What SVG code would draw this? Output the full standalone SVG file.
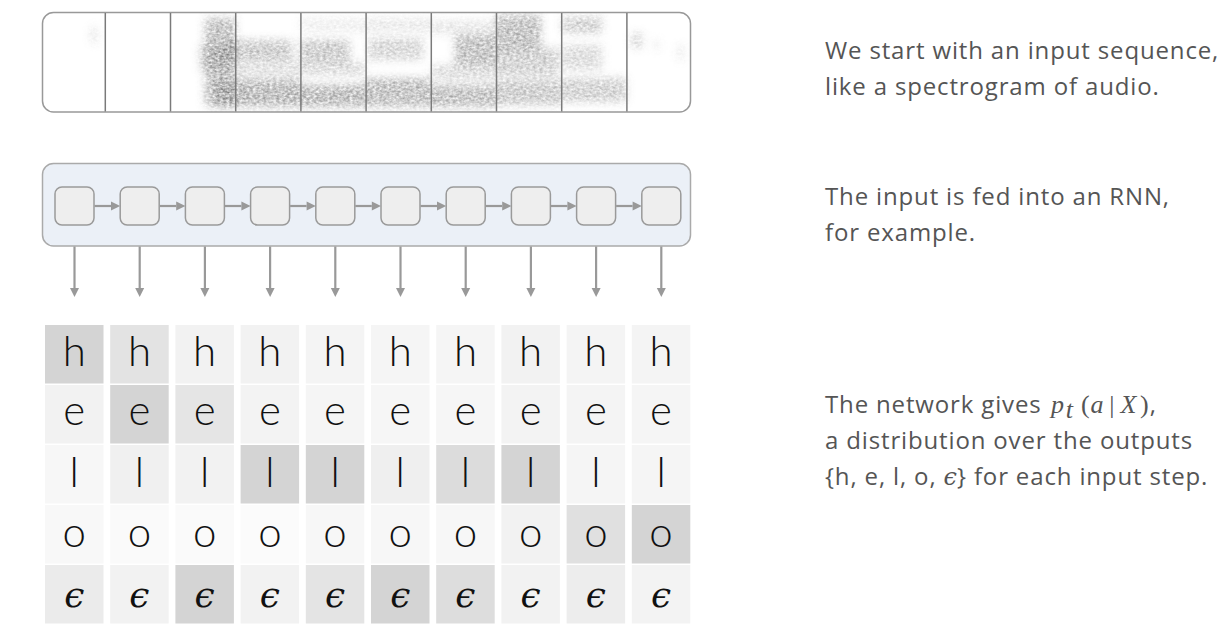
<svg xmlns="http://www.w3.org/2000/svg" width="1231" height="629" viewBox="0 0 1231 629">
<style>
.frame{fill:#fff;stroke:#999;stroke-width:1.5}
.div{stroke:#7a7a7a;stroke-width:1.5}
.rnnbox{fill:#ebf0f7;stroke:#aaa;stroke-width:1.5}
.cell{fill:#eeeeee;stroke:#9a9a9a;stroke-width:1.5}
.conn{stroke:#999;stroke-width:2.2;fill:none}
.head{fill:#999}
.lt{font-family:Lato,"Open Sans","Liberation Sans",sans-serif;font-weight:300;font-size:42px;fill:#111;text-anchor:middle}
.eps{font-family:"DejaVu Serif","Liberation Serif",serif;font-style:italic;font-size:36px;fill:#111;text-anchor:middle}
.cap{font-family:"Open Sans","Liberation Sans",sans-serif;font-size:24px;letter-spacing:0.85px;fill:#555}
.m{font-family:"Liberation Serif","DejaVu Serif",serif;font-size:26px;fill:#555}
.mi{font-style:italic}
</style>
<defs>
<filter id="spec" filterUnits="userSpaceOnUse" x="42" y="12" width="649" height="100">
<feGaussianBlur in="SourceGraphic" stdDeviation="4" result="b"/>
<feTurbulence type="fractalNoise" baseFrequency="0.3 0.45" numOctaves="2" seed="4" result="n"/>
<feColorMatrix in="n" type="matrix" values="0 0 0 0 0 0 0 0 0 0 0 0 0 0 0 0 0 0 1.4 -0.15" result="na"/>
<feComposite in="b" in2="na" operator="in"/>
</filter>
</defs>

<g id="spectrogram">
<rect class="frame" x="42.5" y="12.5" width="648" height="99.5" rx="11"/>
<g filter="url(#spec)" fill="#555">
<rect x="92" y="27" width="4" height="16" opacity="0.35"/>
<rect x="205" y="18" width="30" height="88" opacity="0.55"/>
<rect x="200" y="45" width="35" height="25" opacity="0.4"/>
<rect x="222" y="40" width="70" height="20" opacity="0.45"/>
<rect x="215" y="80" width="85" height="27" opacity="0.6"/>
<rect x="235" y="60" width="65" height="18" opacity="0.25"/>
<rect x="300" y="18" width="65" height="14" opacity="0.15"/>
<rect x="300" y="40" width="50" height="22" opacity="0.45"/>
<rect x="300" y="62" width="65" height="14" opacity="0.3"/>
<rect x="300" y="85" width="65" height="22" opacity="0.6"/>
<rect x="365" y="18" width="65" height="14" opacity="0.18"/>
<rect x="368" y="38" width="55" height="22" opacity="0.35"/>
<rect x="365" y="78" width="65" height="29" opacity="0.55"/>
<rect x="430" y="20" width="66" height="14" opacity="0.2"/>
<rect x="455" y="35" width="41" height="30" opacity="0.55"/>
<rect x="432" y="65" width="64" height="15" opacity="0.3"/>
<rect x="430" y="85" width="66" height="22" opacity="0.55"/>
<rect x="496" y="15" width="45" height="35" opacity="0.55"/>
<rect x="496" y="48" width="62" height="28" opacity="0.4"/>
<rect x="496" y="80" width="65" height="25" opacity="0.45"/>
<rect x="562" y="17" width="40" height="16" opacity="0.4"/>
<rect x="562" y="45" width="40" height="25" opacity="0.3"/>
<rect x="562" y="78" width="64" height="24" opacity="0.4"/>
<rect x="632" y="33" width="10" height="15" opacity="0.35"/>
<rect x="655" y="40" width="3" height="10" opacity="0.3"/>
<rect x="679" y="45" width="3" height="15" opacity="0.35"/>
</g>
<g class="div">
<line x1="105.3" y1="13" x2="105.3" y2="111.5"/>
<line x1="170.5" y1="13" x2="170.5" y2="111.5"/>
<line x1="235.7" y1="13" x2="235.7" y2="111.5"/>
<line x1="300.9" y1="13" x2="300.9" y2="111.5"/>
<line x1="366.1" y1="13" x2="366.1" y2="111.5"/>
<line x1="431.3" y1="13" x2="431.3" y2="111.5"/>
<line x1="496.5" y1="13" x2="496.5" y2="111.5"/>
<line x1="561.7" y1="13" x2="561.7" y2="111.5"/>
<line x1="626.9" y1="13" x2="626.9" y2="111.5"/>
</g>
</g>

<g id="rnn">
<rect class="rnnbox" x="42.5" y="163.5" width="648" height="82.5" rx="11"/>
</g>
<g id="rnn-cells">
<rect id="c1" class="cell" x="55" y="187" width="39" height="38" rx="7"/>
<rect id="c2" class="cell" x="120.2" y="187" width="39" height="38" rx="7"/>
<rect id="c3" class="cell" x="185.4" y="187" width="39" height="38" rx="7"/>
<rect id="c4" class="cell" x="250.6" y="187" width="39" height="38" rx="7"/>
<rect id="c5" class="cell" x="315.8" y="187" width="39" height="38" rx="7"/>
<rect id="c6" class="cell" x="381" y="187" width="39" height="38" rx="7"/>
<rect id="c7" class="cell" x="446.2" y="187" width="39" height="38" rx="7"/>
<rect id="c8" class="cell" x="511.4" y="187" width="39" height="38" rx="7"/>
<rect id="c9" class="cell" x="576.6" y="187" width="39" height="38" rx="7"/>
<rect id="c10" class="cell" x="641.8" y="187" width="39" height="38" rx="7"/>
</g>

<g id="connectors">
<g class="conn">
<line x1="94.5" y1="206" x2="111" y2="206"/>
<line x1="159.7" y1="206" x2="176.2" y2="206"/>
<line x1="224.9" y1="206" x2="241.4" y2="206"/>
<line x1="290.1" y1="206" x2="306.6" y2="206"/>
<line x1="355.3" y1="206" x2="371.8" y2="206"/>
<line x1="420.5" y1="206" x2="437" y2="206"/>
<line x1="485.7" y1="206" x2="502.2" y2="206"/>
<line x1="550.9" y1="206" x2="567.4" y2="206"/>
<line x1="616.1" y1="206" x2="632.6" y2="206"/>
</g>
<g class="head">
<polygon points="111,201.5 120.2,206 111,210.5"/>
<polygon points="176.2,201.5 185.4,206 176.2,210.5"/>
<polygon points="241.4,201.5 250.6,206 241.4,210.5"/>
<polygon points="306.6,201.5 315.8,206 306.6,210.5"/>
<polygon points="371.8,201.5 381,206 371.8,210.5"/>
<polygon points="437,201.5 446.2,206 437,210.5"/>
<polygon points="502.2,201.5 511.4,206 502.2,210.5"/>
<polygon points="567.4,201.5 576.6,206 567.4,210.5"/>
<polygon points="632.6,201.5 641.8,206 632.6,210.5"/>
</g>
<g class="conn">
<line x1="74.5" y1="246.5" x2="74.5" y2="289"/>
<line x1="139.7" y1="246.5" x2="139.7" y2="289"/>
<line x1="204.9" y1="246.5" x2="204.9" y2="289"/>
<line x1="270.1" y1="246.5" x2="270.1" y2="289"/>
<line x1="335.3" y1="246.5" x2="335.3" y2="289"/>
<line x1="400.5" y1="246.5" x2="400.5" y2="289"/>
<line x1="465.7" y1="246.5" x2="465.7" y2="289"/>
<line x1="530.9" y1="246.5" x2="530.9" y2="289"/>
<line x1="596.1" y1="246.5" x2="596.1" y2="289"/>
<line x1="661.3" y1="246.5" x2="661.3" y2="289"/>
</g>
<g class="head">
<polygon points="70,288 79,288 74.5,297"/>
<polygon points="135.2,288 144.2,288 139.7,297"/>
<polygon points="200.4,288 209.4,288 204.9,297"/>
<polygon points="265.6,288 274.6,288 270.1,297"/>
<polygon points="330.8,288 339.8,288 335.3,297"/>
<polygon points="396,288 405,288 400.5,297"/>
<polygon points="461.2,288 470.2,288 465.7,297"/>
<polygon points="526.4,288 535.4,288 530.9,297"/>
<polygon points="591.6,288 600.6,288 596.1,297"/>
<polygon points="656.8,288 665.8,288 661.3,297"/>
</g>
</g>

<g id="grid">
<g id="row-h">
<rect x="45" y="325" width="58.5" height="58.5" fill="#d4d4d4"/>
<rect x="110.2" y="325" width="58.5" height="58.5" fill="#e3e3e3"/>
<rect x="175.4" y="325" width="58.5" height="58.5" fill="#f2f2f2"/>
<rect x="240.6" y="325" width="58.5" height="58.5" fill="#f2f2f2"/>
<rect x="305.8" y="325" width="58.5" height="58.5" fill="#f4f4f4"/>
<rect x="371" y="325" width="58.5" height="58.5" fill="#f5f5f5"/>
<rect x="436.2" y="325" width="58.5" height="58.5" fill="#f5f5f5"/>
<rect x="501.4" y="325" width="58.5" height="58.5" fill="#f2f2f2"/>
<rect x="566.6" y="325" width="58.5" height="58.5" fill="#f4f4f4"/>
<rect x="631.8" y="325" width="58.5" height="58.5" fill="#f4f4f4"/>
<text class="lt" x="74.25" y="366">h</text><text class="lt" x="139.45" y="366">h</text><text class="lt" x="204.65" y="366">h</text><text class="lt" x="269.85" y="366">h</text><text class="lt" x="335.05" y="366">h</text><text class="lt" x="400.25" y="366">h</text><text class="lt" x="465.45" y="366">h</text><text class="lt" x="530.65" y="366">h</text><text class="lt" x="595.85" y="366">h</text><text class="lt" x="661.05" y="366">h</text>
</g>
<g id="row-e">
<rect x="45" y="385" width="58.5" height="58.5" fill="#f2f2f2"/>
<rect x="110.2" y="385" width="58.5" height="58.5" fill="#d4d4d4"/>
<rect x="175.4" y="385" width="58.5" height="58.5" fill="#e5e5e5"/>
<rect x="240.6" y="385" width="58.5" height="58.5" fill="#f3f3f3"/>
<rect x="305.8" y="385" width="58.5" height="58.5" fill="#f5f5f5"/>
<rect x="371" y="385" width="58.5" height="58.5" fill="#f6f6f6"/>
<rect x="436.2" y="385" width="58.5" height="58.5" fill="#f6f6f6"/>
<rect x="501.4" y="385" width="58.5" height="58.5" fill="#f3f3f3"/>
<rect x="566.6" y="385" width="58.5" height="58.5" fill="#f4f4f4"/>
<rect x="631.8" y="385" width="58.5" height="58.5" fill="#f5f5f5"/>
<text class="lt" x="74.25" y="425">e</text><text class="lt" x="139.45" y="425">e</text><text class="lt" x="204.65" y="425">e</text><text class="lt" x="269.85" y="425">e</text><text class="lt" x="335.05" y="425">e</text><text class="lt" x="400.25" y="425">e</text><text class="lt" x="465.45" y="425">e</text><text class="lt" x="530.65" y="425">e</text><text class="lt" x="595.85" y="425">e</text><text class="lt" x="661.05" y="425">e</text>
</g>
<g id="row-l">
<rect x="45" y="445" width="58.5" height="58.5" fill="#f7f7f7"/>
<rect x="110.2" y="445" width="58.5" height="58.5" fill="#f0f0f0"/>
<rect x="175.4" y="445" width="58.5" height="58.5" fill="#f2f2f2"/>
<rect x="240.6" y="445" width="58.5" height="58.5" fill="#d4d4d4"/>
<rect x="305.8" y="445" width="58.5" height="58.5" fill="#d4d4d4"/>
<rect x="371" y="445" width="58.5" height="58.5" fill="#efefef"/>
<rect x="436.2" y="445" width="58.5" height="58.5" fill="#dcdcdc"/>
<rect x="501.4" y="445" width="58.5" height="58.5" fill="#d4d4d4"/>
<rect x="566.6" y="445" width="58.5" height="58.5" fill="#f5f5f5"/>
<rect x="631.8" y="445" width="58.5" height="58.5" fill="#f5f5f5"/>
<text class="lt" x="74.25" y="487">l</text><text class="lt" x="139.45" y="487">l</text><text class="lt" x="204.65" y="487">l</text><text class="lt" x="269.85" y="487">l</text><text class="lt" x="335.05" y="487">l</text><text class="lt" x="400.25" y="487">l</text><text class="lt" x="465.45" y="487">l</text><text class="lt" x="530.65" y="487">l</text><text class="lt" x="595.85" y="487">l</text><text class="lt" x="661.05" y="487">l</text>
</g>
<g id="row-o">
<rect x="45" y="505" width="58.5" height="58.5" fill="#f8f8f8"/>
<rect x="110.2" y="505" width="58.5" height="58.5" fill="#fafafa"/>
<rect x="175.4" y="505" width="58.5" height="58.5" fill="#fafafa"/>
<rect x="240.6" y="505" width="58.5" height="58.5" fill="#fbfbfb"/>
<rect x="305.8" y="505" width="58.5" height="58.5" fill="#f7f7f7"/>
<rect x="371" y="505" width="58.5" height="58.5" fill="#f7f7f7"/>
<rect x="436.2" y="505" width="58.5" height="58.5" fill="#f7f7f7"/>
<rect x="501.4" y="505" width="58.5" height="58.5" fill="#f2f2f2"/>
<rect x="566.6" y="505" width="58.5" height="58.5" fill="#e0e0e0"/>
<rect x="631.8" y="505" width="58.5" height="58.5" fill="#d4d4d4"/>
<text class="lt" x="74.25" y="547">o</text><text class="lt" x="139.45" y="547">o</text><text class="lt" x="204.65" y="547">o</text><text class="lt" x="269.85" y="547">o</text><text class="lt" x="335.05" y="547">o</text><text class="lt" x="400.25" y="547">o</text><text class="lt" x="465.45" y="547">o</text><text class="lt" x="530.65" y="547">o</text><text class="lt" x="595.85" y="547">o</text><text class="lt" x="661.05" y="547">o</text>
</g>
<g id="row-eps">
<rect x="45" y="565" width="58.5" height="58.5" fill="#ebebeb"/>
<rect x="110.2" y="565" width="58.5" height="58.5" fill="#f2f2f2"/>
<rect x="175.4" y="565" width="58.5" height="58.5" fill="#d4d4d4"/>
<rect x="240.6" y="565" width="58.5" height="58.5" fill="#f2f2f2"/>
<rect x="305.8" y="565" width="58.5" height="58.5" fill="#e4e4e4"/>
<rect x="371" y="565" width="58.5" height="58.5" fill="#d4d4d4"/>
<rect x="436.2" y="565" width="58.5" height="58.5" fill="#dddddd"/>
<rect x="501.4" y="565" width="58.5" height="58.5" fill="#f2f2f2"/>
<rect x="566.6" y="565" width="58.5" height="58.5" fill="#ededed"/>
<rect x="631.8" y="565" width="58.5" height="58.5" fill="#f3f3f3"/>
<text class="eps" x="74.25" y="607">ϵ</text><text class="eps" x="139.45" y="607">ϵ</text><text class="eps" x="204.65" y="607">ϵ</text><text class="eps" x="269.85" y="607">ϵ</text><text class="eps" x="335.05" y="607">ϵ</text><text class="eps" x="400.25" y="607">ϵ</text><text class="eps" x="465.45" y="607">ϵ</text><text class="eps" x="530.65" y="607">ϵ</text><text class="eps" x="595.85" y="607">ϵ</text><text class="eps" x="661.05" y="607">ϵ</text>
</g>
</g>

<g id="captions">
<text class="cap" x="825" y="59">We start with an input sequence,</text>
<text class="cap" x="825" y="95">like a spectrogram of audio.</text>
<text class="cap" x="825" y="205">The input is fed into an RNN,</text>
<text class="cap" x="825" y="241">for example.</text>
<text class="cap" x="825" y="413">The network gives</text>
<text class="cap" x="1051" y="413"><tspan class="m mi">p</tspan><tspan class="m mi" font-size="17" dx="1" dy="5">t</tspan><tspan class="m" dx="7" dy="-5">(</tspan><tspan class="m mi">a</tspan><tspan class="m" dx="5">|</tspan><tspan class="m mi" dx="5">X</tspan><tspan class="m" dx="3">)</tspan>,</text>
<text class="cap" x="825" y="449">a distribution over the outputs</text>
<text class="cap" x="825" y="485">{h, e, l, o, <tspan font-family="'DejaVu Serif','Liberation Serif',serif" font-style="italic" letter-spacing="0">ϵ</tspan>} for each input step.</text>
</g>
</svg>
